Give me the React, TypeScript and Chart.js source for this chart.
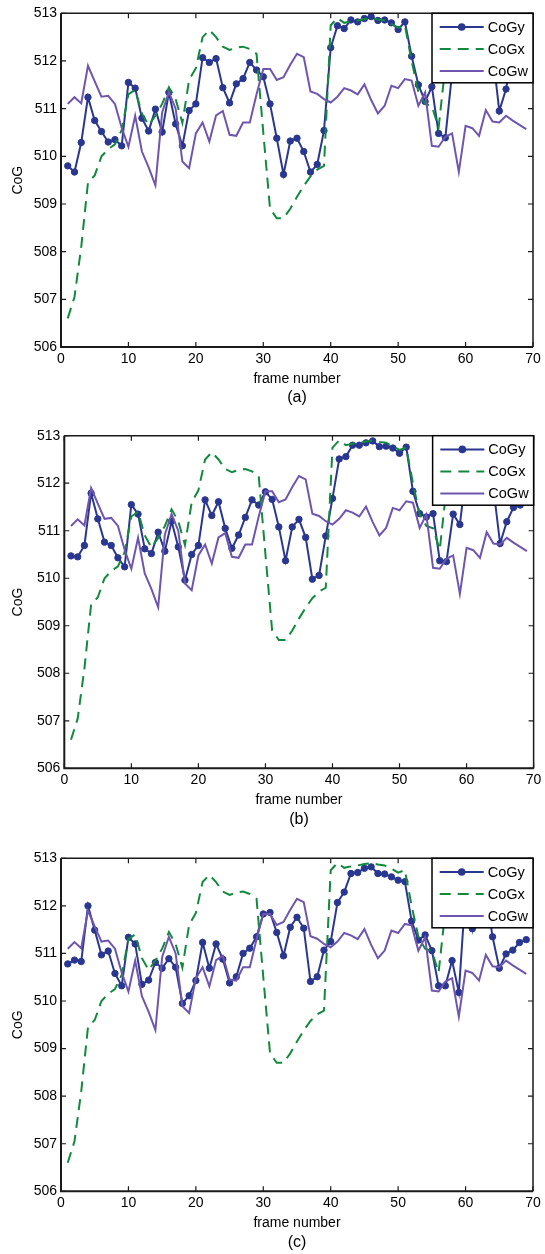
import React, { useEffect, useRef } from 'react';
import { Chart, registerables } from 'chart.js';

Chart.register(...registerables);
Chart.defaults.font.family = '"Liberation Sans", Arial, Helvetica, sans-serif';

// ---------------- data ----------------
const frames = [
  1, 2, 3, 4, 5, 6, 7, 8, 9, 10, 11, 12, 13, 14, 15, 16, 17, 18, 19, 20,
  21, 22, 23, 24, 25, 26, 27, 28, 29, 30, 31, 32, 33, 34, 35, 36, 37, 38, 39, 40,
  41, 42, 43, 44, 45, 46, 47, 48, 49, 50, 51, 52, 53, 54, 55, 56, 57, 58, 59, 60,
  61, 62, 63, 64, 65, 66, 67, 68, 69,
];

const cogX = [
  506.6, 507.05, 508.1, 509.45, 509.6, 510.0, 510.15, 510.25, 510.55, 511.3,
  511.4, 510.9, 510.65, 510.85, 511.1, 511.45, 511.2, 510.7, 511.6, 511.85,
  512.5, 512.65, 512.5, 512.3, 512.23, 512.28, 512.3, 512.25, 512.15, 510.5,
  508.9, 508.7, 508.7, 508.9, 509.15, 509.38, 509.58, 509.72, 509.8, 512.75,
  512.9, 512.8, 512.83, 512.85, 512.88, 512.9, 512.87, 512.85, 512.78, 512.7,
  512.75, 512.0, 511.35, 511.1, 511.05, 510.6, 511.9, 512.5, 512.6, 512.7,
  512.65, 512.6, 512.7, 512.6, 512.55, 512.6, 512.65, 512.6, 512.55,
];

const cogW = [
  511.10, 511.24, 511.11, 511.90, 511.57, 511.25, 511.27, 511.10, 510.60, 510.20,
  510.85, 510.10, 509.77, 509.39, 510.92, 511.35, 511.00, 509.89, 509.75, 510.48,
  510.71, 510.31, 510.86, 510.95, 510.45, 510.43, 510.71, 510.71, 511.30, 511.83,
  511.83, 511.60, 511.66, 511.92, 512.15, 512.08, 511.36, 511.31, 511.20, 511.13,
  511.25, 511.43, 511.38, 511.30, 511.51, 511.18, 510.90, 511.06, 511.48, 511.43,
  511.62, 511.59, 511.06, 511.34, 510.22, 510.20, 510.41, 510.48, 509.67, 510.64,
  510.59, 510.43, 510.97, 510.73, 510.71, 510.85, 510.75, 510.66, 510.57,
];

const cogYa = [
  509.80, 509.67, 510.29, 511.24, 510.75, 510.52, 510.30, 510.35, 510.22, 511.55,
  511.43, 510.80, 510.53, 510.99, 510.51, 511.34, 510.68, 510.22, 510.96, 511.10,
  512.07, 511.97, 512.05, 511.44, 511.12, 511.52, 511.63, 511.97, 511.81, 511.67,
  511.10, 510.38, 509.62, 510.32, 510.38, 510.10, 509.67, 509.83, 510.54, 512.28,
  512.74, 512.68, 512.86, 512.82, 512.89, 512.93, 512.85, 512.86, 512.80, 512.66,
  512.82, 512.10, 511.50, 511.15, 511.46, 510.48, 510.39, 511.75, 512.50, 512.70,
  512.60, 512.70, 512.60, 512.20, 510.95, 511.41, 512.20, 512.40, 512.50,
];

const cogYb = [
  510.47, 510.45, 510.69, 511.79, 511.25, 510.76, 510.69, 510.43, 510.24, 511.55,
  511.35, 510.62, 510.52, 510.97, 510.57, 511.20, 510.66, 509.96, 510.50, 510.69,
  511.65, 511.32, 511.61, 511.05, 510.63, 510.91, 511.28, 511.65, 511.54, 511.82,
  511.66, 511.08, 510.37, 511.08, 511.24, 510.86, 509.98, 510.06, 510.89, 511.68,
  512.51, 512.56, 512.80, 512.80, 512.85, 512.89, 512.77, 512.78, 512.74, 512.63,
  512.76, 511.83, 511.36, 511.29, 511.36, 510.37, 510.35, 511.35, 511.13, 512.30,
  512.50, 512.60, 512.40, 511.90, 510.73, 511.19, 511.49, 511.54,
];

const cogYc = [
  510.78, 510.86, 510.83, 512.00, 511.49, 510.97, 511.05, 510.58, 510.32, 511.34,
  511.20, 510.35, 510.44, 510.81, 510.69, 510.89, 510.71, 509.95, 510.11, 510.43,
  511.23, 510.69, 511.20, 510.88, 510.38, 510.51, 511.00, 511.11, 511.35, 511.83,
  511.86, 511.44, 510.95, 511.55, 511.76, 511.53, 510.41, 510.51, 511.07, 511.25,
  512.07, 512.29, 512.68, 512.70, 512.79, 512.82, 512.68, 512.67, 512.61, 512.54,
  512.51, 511.68, 511.28, 511.39, 511.06, 510.32, 510.32, 510.85, 510.18, 512.30,
  511.52, 512.50, 512.30, 511.35, 510.69, 510.99, 511.07, 511.23, 511.29,
];

const seriesLabels = ['CoGy', 'CoGx', 'CoGw'];
const captions = ['(a)', '(b)', '(c)'];
const xLabel = 'frame number';
const yLabel = 'CoG';

// ---------------- styling / layout ----------------
const BLUE = '#2a3790';
const GREEN = '#12893c';
const PURPLE = '#6e56ae';
const W = 545;

const panels = [
  { y: cogYa, caption: captions[0], top: 0, h: 422, pt: 13.3, pb: 347, pl: 61, pr: 533 },
  { y: cogYb, caption: captions[1], top: 422, h: 422, pt: 13.7, pb: 346.3, pl: 64.3, pr: 537.3 },
  { y: cogYc, caption: captions[2], top: 844, h: 410, pt: 14.3, pb: 347.3, pl: 61, pr: 533 },
];

const toPts = (vals: number[]) => vals.map((v, i) => ({ x: frames[i], y: v }));

const framePlugin = {
  id: 'frameBox',
  afterDatasetsDraw(chart: any) {
    const { ctx, chartArea: a, scales } = chart;
    const xs = scales.x;
    const ys = scales.y;
    const tl = 5;
    ctx.save();
    ctx.strokeStyle = '#1a1a1a';
    ctx.lineWidth = 1.2;
    ctx.beginPath();
    xs.ticks.forEach((t: any) => {
      const px = xs.getPixelForValue(t.value);
      ctx.moveTo(px, a.bottom);
      ctx.lineTo(px, a.bottom - tl);
      ctx.moveTo(px, a.top);
      ctx.lineTo(px, a.top + tl);
    });
    ys.ticks.forEach((t: any) => {
      const py = ys.getPixelForValue(t.value);
      ctx.moveTo(a.left, py);
      ctx.lineTo(a.left + tl, py);
      ctx.moveTo(a.right, py);
      ctx.lineTo(a.right - tl, py);
    });
    ctx.stroke();
    // box
    ctx.lineWidth = 1.5;
    ctx.beginPath();
    ctx.moveTo(a.left, a.top);
    ctx.lineTo(a.right, a.top);
    ctx.lineTo(a.right, a.bottom);
    ctx.stroke();
    ctx.lineWidth = 2;
    ctx.beginPath();
    ctx.moveTo(a.left, a.top);
    ctx.lineTo(a.left, a.bottom);
    ctx.lineTo(a.right, a.bottom);
    ctx.stroke();
    ctx.restore();
  },
};

const legendPlugin = {
  id: 'boxLegend',
  afterDatasetsDraw(chart: any) {
    const { ctx, chartArea: a } = chart;
    const w = 101;
    const h = 69.5;
    const left = a.right - w;
    const top = a.top;
    ctx.save();
    ctx.fillStyle = '#ffffff';
    ctx.fillRect(left, top, w, h);
    ctx.strokeStyle = '#000000';
    ctx.lineWidth = 1.5;
    ctx.strokeRect(left, top, w, h);
    chart.data.datasets.forEach((ds: any, i: number) => {
      const cy = top + 13.7 + i * 22;
      ctx.strokeStyle = ds.borderColor;
      ctx.lineWidth = ds.borderWidth;
      ctx.setLineDash(ds.borderDash || []);
      ctx.beginPath();
      ctx.moveTo(left + 7.7, cy);
      ctx.lineTo(left + 51.7, cy);
      ctx.stroke();
      ctx.setLineDash([]);
      if (ds.pointRadius > 0) {
        ctx.fillStyle = ds.pointBackgroundColor;
        ctx.beginPath();
        ctx.arc(left + 29.7, cy, ds.pointRadius + 0.6, 0, Math.PI * 2);
        ctx.fill();
      }
      ctx.fillStyle = '#000000';
      ctx.font = '14.5px "Liberation Sans", Arial, sans-serif';
      ctx.textBaseline = 'middle';
      ctx.textAlign = 'left';
      ctx.fillText(ds.label, left + 55.7, cy + 0.5);
    });
    ctx.restore();
  },
};

function Panel({ p }: { p: (typeof panels)[number] }) {
  const ref = useRef<HTMLCanvasElement | null>(null);
  useEffect(() => {
    if (!ref.current) return;
    const captionCenter = p.pb + 51;
    const chart = new Chart(ref.current, {
      type: 'line',
      data: {
        datasets: [
          {
            label: seriesLabels[0],
            data: toPts(p.y),
            borderColor: BLUE,
            backgroundColor: BLUE,
            borderWidth: 2,
            pointRadius: 3.2,
            pointBorderWidth: 1,
            pointBackgroundColor: BLUE,
            pointBorderColor: BLUE,
            order: 3,
            clip: 6,
          } as any,
          {
            label: seriesLabels[1],
            data: toPts(cogX),
            borderColor: GREEN,
            backgroundColor: GREEN,
            borderWidth: 2,
            borderDash: [11, 7],
            pointRadius: 0,
            order: 2,
          } as any,
          {
            label: seriesLabels[2],
            data: toPts(cogW),
            borderColor: PURPLE,
            backgroundColor: PURPLE,
            borderWidth: 2,
            pointRadius: 0,
            order: 1,
          } as any,
        ],
      },
      options: {
        animation: false,
        responsive: false,
        events: [],
        layout: { padding: { top: p.pt, right: W - p.pr, left: 0, bottom: 0 } },
        scales: {
          x: {
            type: 'linear',
            min: 0,
            max: 70,
            ticks: { stepSize: 10, padding: 3.6, color: '#000', font: { size: 14 }, maxRotation: 0, autoSkip: false },
            grid: { display: false, drawTicks: false },
            border: { display: false },
            title: { display: true, text: xLabel, color: '#000', font: { size: 14 }, padding: { top: 0, bottom: 1 } },
            afterFit: (s: any) => {
              s.height = 41.4;
            },
          },
          y: {
            type: 'linear',
            min: 506,
            max: 513,
            ticks: { stepSize: 1, padding: 4, color: '#000', font: { size: 14 } },
            grid: { display: false, drawTicks: false },
            border: { display: false },
            title: { display: true, text: yLabel, color: '#000', font: { size: 14 }, padding: { top: 9.6, bottom: 0 } },
            afterFit: (s: any) => {
              s.width = p.pl;
            },
          },
        },
        plugins: {
          legend: { display: false },
          tooltip: { enabled: false },
          title: {
            display: true,
            position: 'bottom',
            fullSize: false,
            text: p.caption,
            color: '#000',
            font: { size: 16, weight: 'normal' },
            padding: { top: 0, bottom: p.h - captionCenter - 9.6 },
          },
        },
      } as any,
      plugins: [framePlugin, legendPlugin],
    });
    return () => chart.destroy();
  }, [p]);
  return (
    <div style={{ position: 'absolute', left: 0, top: p.top, width: W, height: p.h }}>
      <canvas ref={ref} width={W} height={p.h} style={{ display: 'block', width: W, height: p.h }} />
    </div>
  );
}

export default function App() {
  return (
    <div style={{ position: 'absolute', left: 0, top: 0, width: W, height: 1254, background: '#fff' }}>
      {panels.map((p) => (
        <Panel key={p.caption} p={p} />
      ))}
    </div>
  );
}
